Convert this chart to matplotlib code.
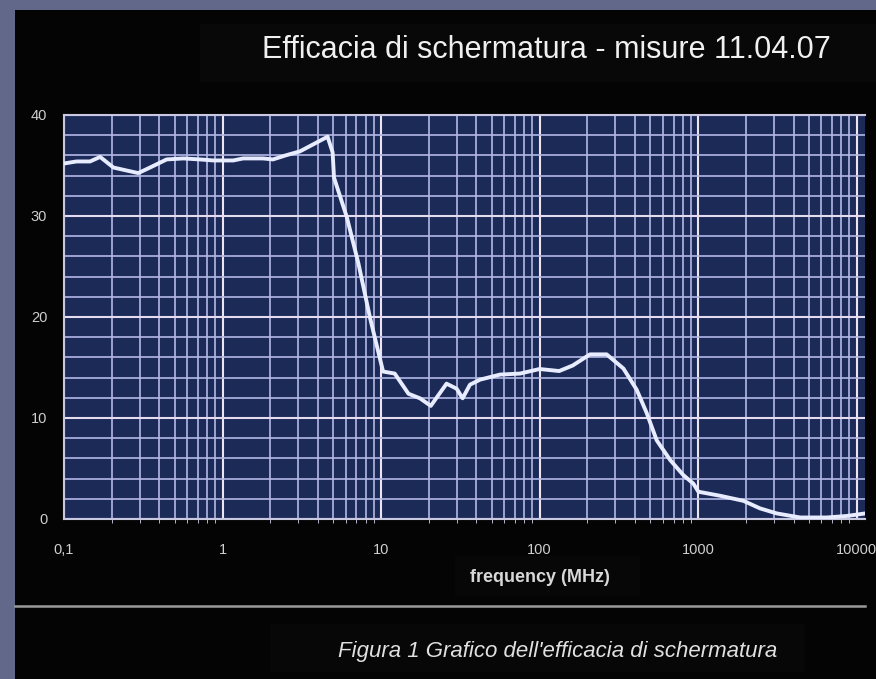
import matplotlib
matplotlib.use("Agg")
import matplotlib.pyplot as plt
from matplotlib.patches import Rectangle
from matplotlib.ticker import FixedLocator, MultipleLocator, NullFormatter, LogLocator
from matplotlib.lines import Line2D

freq_mhz = [0.1, 0.12, 0.146, 0.169, 0.205, 0.249, 0.294, 0.349, 0.444, 0.566,
            0.72, 0.875, 1.0, 1.17, 1.35, 1.8, 2.08, 2.5, 3.08, 3.74,
            4.6, 4.95, 5.05, 6.08, 7.2, 8.5, 10.3, 12.2, 14.9, 17.6,
            20.6, 25.9, 30, 32.7, 36.4, 42.2, 56.4, 75.4, 100, 133,
            162, 208, 265, 338, 410, 474, 548, 666, 807, 934,
            1005, 1377, 1932, 2460, 3140, 4410, 6490, 8670, 11300]
shielding_db = [35.2, 35.4, 35.4, 35.85, 34.8, 34.5, 34.25, 34.8, 35.6, 35.7,
                35.6, 35.5, 35.5, 35.5, 35.7, 35.7, 35.6, 36.0, 36.4, 37.1,
                37.85, 36.3, 33.8, 29.9, 25.3, 20.0, 14.6, 14.4, 12.4, 11.95,
                11.2, 13.4, 12.9, 11.95, 13.3, 13.8, 14.3, 14.4, 14.85, 14.65,
                15.2, 16.3, 16.3, 14.9, 12.8, 10.5, 7.8, 5.85, 4.35, 3.5,
                2.7, 2.3, 1.8, 1.05, 0.55, 0.15, 0.15, 0.3, 0.55]

x_ticks = [0.1, 1, 10, 100, 1000, 10000]
x_tick_labels = ["0,1", "1", "10", "100", "1000", "10000"]
y_ticks = [0, 10, 20, 30, 40]
y_tick_labels = ["0", "10", "20", "30", "40"]

title = "Efficacia di schermatura - misure 11.04.07"
xlabel = "frequency (MHz)"
caption = "Figura 1 Grafico dell'efficacia di schermatura"

W, H = 876, 679
plt.rcParams['font.family'] = ['Liberation Sans', 'DejaVu Sans']
fig = plt.figure(figsize=(W / 100, H / 100), dpi=100, facecolor="#62688a")

# black panel
fig.patches.append(Rectangle((15 / W, 0), 1 - 15 / W, 1 - 10 / H, transform=fig.transFigure,
                             facecolor="#040404", edgecolor="none", zorder=0))
# subtle boxes behind title / xlabel / caption
fig.patches.append(Rectangle((200 / W, 1 - 82 / H), 676 / W, 58 / H, transform=fig.transFigure,
                             facecolor="#080808", edgecolor="none", zorder=0))
fig.patches.append(Rectangle((455 / W, 1 - 596 / H), 185 / W, 40 / H, transform=fig.transFigure,
                             facecolor="#070707", edgecolor="none", zorder=0))
fig.patches.append(Rectangle((270 / W, 1 - 672 / H), 535 / W, 48 / H, transform=fig.transFigure,
                             facecolor="#070707", edgecolor="none", zorder=0))

ax = fig.add_axes([64 / W, 1 - 519 / H, (865 - 64) / W, (519 - 115) / H])
ax.set_zorder(2)
ax.set_facecolor("#1c2a58")
ax.set_xscale("log")
ax.set_xlim(0.1, 11300)
ax.set_ylim(0, 40)

ax.xaxis.set_major_locator(FixedLocator(x_ticks))
ax.xaxis.set_minor_locator(LogLocator(base=10, subs=[2, 3, 4, 5, 6, 7, 8, 9], numticks=20))
ax.xaxis.set_minor_formatter(NullFormatter())
ax.set_xticklabels(x_tick_labels)
ax.yaxis.set_major_locator(FixedLocator(y_ticks))
ax.set_yticklabels(y_tick_labels)
ax.yaxis.set_minor_locator(MultipleLocator(2))

ax.grid(which="minor", axis="both", color="#b4b8e6", linewidth=1.2)
ax.grid(which="major", axis="x", color="#eee4f0", linewidth=1.5)
ax.grid(which="major", axis="y", color="#e6dcf0", linewidth=1.5)
ax.set_axisbelow(True)

ax.tick_params(axis="x", which="major", length=0, pad=17, labelsize=10.5, labelcolor="#cfcfcf")
ax.tick_params(axis="x", which="minor", length=3, color="#d0d0e8", direction="out")
ax.tick_params(axis="y", which="both", length=0, pad=12, labelsize=10.5, labelcolor="#cfcfcf")

for s in ["top", "left", "bottom"]:
    ax.spines[s].set_color("#c8c8e0")
    ax.spines[s].set_linewidth(1.5)
ax.spines["right"].set_visible(False)

ax.plot(freq_mhz, shielding_db, color="#e8ecff", linewidth=2.8, solid_joinstyle="round",
        solid_capstyle="round", zorder=3)

fig.text(546 / W, 1 - 50 / H, title, ha="center", va="center", fontsize=22, color="#f0f0f0")
fig.text(540 / W, 1 - 577 / H, xlabel, ha="center", va="center", fontsize=13,
         fontweight="bold", color="#d8d8d8")
fig.add_artist(Line2D([15 / W, 865 / W], [1 - 606 / H, 1 - 606 / H], transform=fig.transFigure,
                      color="#9a9a9a", linewidth=1.8))
fig.text(558 / W, 1 - 651 / H, caption, ha="center", va="center", fontsize=16,
         style="italic", color="#e0e0e0")

fig.savefig("out.png", dpi=100, facecolor=fig.get_facecolor())
